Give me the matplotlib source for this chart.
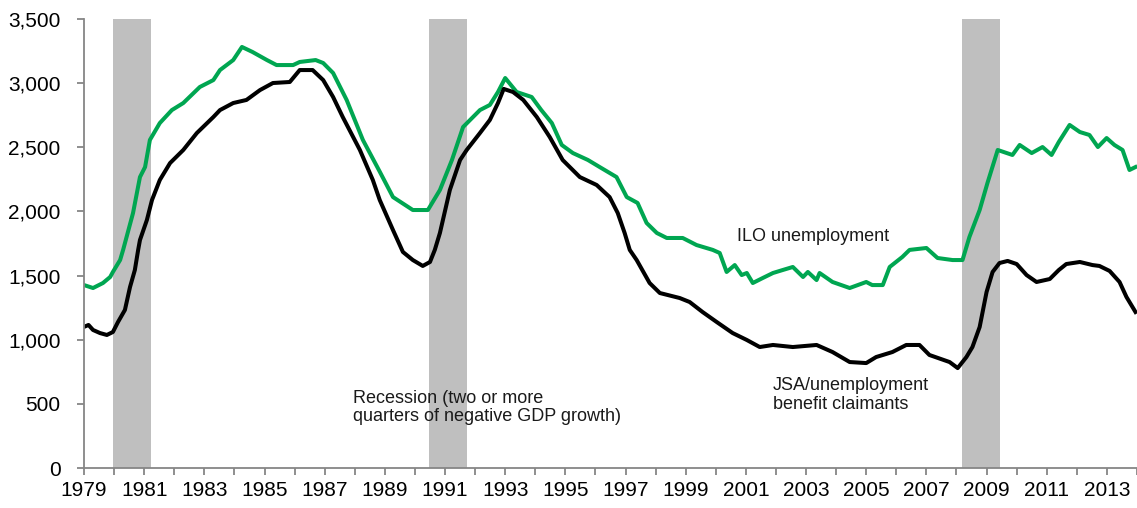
import matplotlib
matplotlib.use("Agg")
import matplotlib.pyplot as plt
from matplotlib.ticker import FuncFormatter

plt.rcParams['font.family'] = ['Liberation Sans', 'DejaVu Sans']

# ---- data (thousands) ----
jsa_years = [1979.0, 1979.15, 1979.3, 1979.53, 1979.76, 1979.96, 1980.13, 1980.36, 1980.53, 1980.69,
             1980.8, 1980.86, 1981.09, 1981.26, 1981.52, 1981.86, 1982.3, 1982.75, 1983.3, 1983.52,
             1983.96, 1984.4, 1984.85, 1985.28, 1985.84, 1986.17, 1986.6, 1986.95, 1987.28, 1987.6,
             1988.17, 1988.6, 1988.83, 1989.27, 1989.6, 1989.93, 1990.26, 1990.5, 1990.66, 1990.83,
             1991.16, 1991.5, 1991.72, 1992.16, 1992.49, 1992.76, 1992.95, 1993.26, 1993.6, 1994.05,
             1994.48, 1994.91, 1995.48, 1996.04, 1996.47, 1996.74, 1996.97, 1997.14, 1997.37, 1997.8,
             1998.14, 1998.8, 1999.13, 1999.56, 2000.03, 2000.56, 2001.03, 2001.46, 2001.9, 2002.56,
             2003.35, 2003.88, 2004.45, 2005.0, 2005.33, 2005.87, 2006.33, 2006.77, 2007.1, 2007.77,
             2008.04, 2008.33, 2008.53, 2008.77, 2009.0, 2009.2, 2009.43, 2009.7, 2010.0, 2010.33,
             2010.66, 2011.1, 2011.4, 2011.65, 2012.1, 2012.52, 2012.75, 2013.09, 2013.42, 2013.65,
             2013.95]
jsa_values = [1100, 1115, 1076, 1052, 1037, 1060, 1138, 1232, 1411, 1543,
              1700, 1777, 1933, 2089, 2245, 2377, 2479, 2611, 2736, 2790,
              2845, 2869, 2946, 3001, 3009, 3102, 3102, 3024, 2892, 2736,
              2479, 2245, 2089, 1855, 1684, 1621, 1575, 1606, 1700, 1832,
              2167, 2401, 2479, 2611, 2713, 2845, 2955, 2931, 2869, 2736,
              2580, 2401, 2268, 2206, 2112, 1988, 1832, 1700, 1621, 1442,
              1364, 1325, 1294, 1216, 1138, 1052, 998, 943, 959, 943,
              959, 904, 826, 818, 865, 904, 959, 959, 881, 826,
              779, 865, 943, 1099, 1372, 1528, 1598, 1614, 1590, 1504,
              1450, 1473, 1543, 1590, 1606, 1582, 1575, 1536, 1450, 1333,
              1216]

ilo_years = [1979.0, 1979.3, 1979.63, 1979.87, 1979.96, 1980.2, 1980.3, 1980.63, 1980.86, 1981.03,
             1981.19, 1981.52, 1981.92, 1982.3, 1982.85, 1983.3, 1983.52, 1983.96, 1984.25, 1984.6,
             1985.08, 1985.4, 1985.95, 1986.17, 1986.7, 1986.95, 1987.28, 1987.73, 1988.27, 1988.83,
             1989.27, 1989.93, 1990.43, 1990.83, 1991.23, 1991.6, 1992.16, 1992.49, 1992.76, 1993.0,
             1993.38, 1993.88, 1994.2, 1994.55, 1994.88, 1995.25, 1995.75, 1996.14, 1996.7, 1997.04,
             1997.4, 1997.7, 1998.04, 1998.37, 1998.9, 1999.36, 1999.9, 2000.13, 2000.36, 2000.63,
             2000.86, 2001.03, 2001.23, 2001.56, 2001.9, 2002.22, 2002.56, 2002.9, 2003.06, 2003.35,
             2003.45, 2003.88, 2004.45, 2005.0, 2005.2, 2005.55, 2005.78, 2006.2, 2006.44, 2007.0,
             2007.37, 2007.87, 2008.2, 2008.43, 2008.77, 2009.03, 2009.37, 2009.86, 2010.1, 2010.5,
             2010.86, 2011.16, 2011.4, 2011.76, 2012.1, 2012.42, 2012.7, 2012.99, 2013.25, 2013.52,
             2013.75, 2013.95]
ilo_values = [1426, 1403, 1442, 1489, 1528, 1621, 1700, 1988, 2268, 2346,
              2557, 2689, 2790, 2845, 2970, 3024, 3102, 3180, 3282, 3243,
              3180, 3141, 3141, 3165, 3180, 3157, 3079, 2869, 2557, 2310,
              2112, 2011, 2011, 2167, 2401, 2658, 2790, 2830, 2931, 3040,
              2931, 2892, 2790, 2689, 2518, 2455, 2401, 2346, 2268, 2112,
              2066, 1910, 1832, 1793, 1793, 1738, 1700, 1676, 1528, 1582,
              1504, 1520, 1442, 1481, 1520, 1543, 1567, 1489, 1528, 1465,
              1520, 1450, 1403, 1450, 1426, 1426, 1567, 1645, 1700, 1715,
              1637, 1621, 1621, 1801, 2011, 2222, 2479, 2440, 2518, 2455,
              2502, 2440, 2541, 2674, 2619, 2596, 2502, 2572, 2518, 2479,
              2323, 2346]

recession_starts = [1979.96, 1990.46, 2008.17]
recession_ends = [1981.23, 1991.72, 2009.43]

tick_years = list(range(1979, 2015))
tick_labels = [str(y) if (y - 1979) % 2 == 0 else '' for y in tick_years]
y_ticks = [0, 500, 1000, 1500, 2000, 2500, 3000, 3500]

# ---- figure ----
fig = plt.figure(figsize=(11.37, 5.08), dpi=100)
ax = fig.add_axes([84 / 1137, 40 / 508, 1 - 84 / 1137, 449 / 508])

for s, e in zip(recession_starts, recession_ends):
    ax.axvspan(s, e, color='#BFBFBF', lw=0, zorder=1)

ax.plot(ilo_years, ilo_values, color='#00A651', lw=2.9, zorder=3, solid_joinstyle='round')
ax.plot(jsa_years, jsa_values, color='black', lw=2.9, zorder=4, solid_joinstyle='round')

ax.set_xlim(1979, 2014)
ax.set_ylim(0, 3500)
ax.set_xticks(tick_years)
ax.set_xticklabels(tick_labels)
ax.set_yticks(y_ticks)
ax.yaxis.set_major_formatter(FuncFormatter(lambda v, p: f"{int(v):,}"))

for side in ['top', 'right']:
    ax.spines[side].set_visible(False)
for side in ['left', 'bottom']:
    ax.spines[side].set_color('#868686')
    ax.spines[side].set_linewidth(1.3)
    ax.spines[side].set_zorder(5)

ax.tick_params(axis='both', direction='out', length=5, width=1.3, color='#868686',
               labelsize=15, labelcolor='black')
ax.tick_params(axis='y', pad=12)
ax.tick_params(axis='x', pad=4)

txt_kw = dict(fontsize=13, color='#1a1a1a', linespacing=1.12, zorder=6)
ax.text(1987.94, 470, "Recession (two or more\nquarters of negative GDP growth)",
        ha='left', va='center', **txt_kw)
ax.text(2000.69, 1801, "ILO unemployment", ha='left', va='center', **txt_kw)
ax.text(2001.89, 570, "JSA/unemployment\nbenefit claimants", ha='left', va='center', **txt_kw)

fig.savefig("out.png", dpi=100)
